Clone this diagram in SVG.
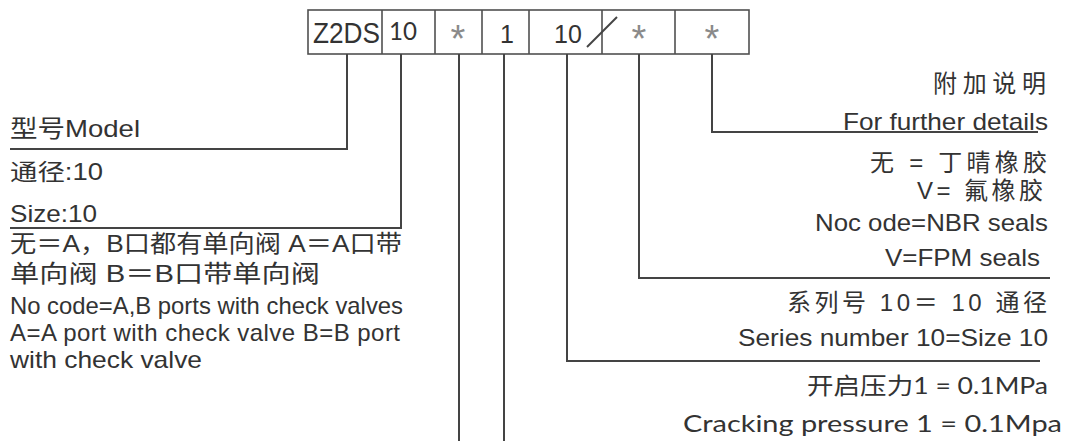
<svg xmlns="http://www.w3.org/2000/svg" width="1068" height="441" viewBox="0 0 1068 441">
<style>
.t{font-family:"Liberation Sans",Arial,"Noto Sans CJK SC",sans-serif;fill:#333;}
.c{font-family:"Liberation Sans","Noto Sans CJK SC",sans-serif;fill:#333;}
.g{font-family:Lato,"Noto Sans","Noto Sans CJK SC",sans-serif;fill:#333;}
.ast{font-family:"Liberation Sans",sans-serif;fill:#8a8a8a;font-size:38px;text-anchor:middle;}
.box{fill:#fff;stroke:#505050;stroke-width:1.6;}
.ln{fill:none;stroke:#444;stroke-width:2;}
</style>
<rect width="1068" height="441" fill="#fff"/>
<g id="code-boxes">
<rect class="box" x="308" y="10" width="441" height="44"/>
<line class="box" x1="382" y1="10" x2="382" y2="54"/>
<line class="box" x1="435" y1="10" x2="435" y2="54"/>
<line class="box" x1="482" y1="10" x2="482" y2="54"/>
<line class="box" x1="529" y1="10" x2="529" y2="54"/>
<line class="box" x1="602" y1="10" x2="602" y2="54"/>
<line class="box" x1="675" y1="10" x2="675" y2="54"/>
<text class="t" x="313" y="43" font-size="29" textLength="67" lengthAdjust="spacingAndGlyphs">Z2DS</text>
<text class="g" x="389" y="40" font-size="25" textLength="28" lengthAdjust="spacingAndGlyphs">10</text>
<text class="ast" x="458" y="52">*</text>
<text class="t" x="500" y="43" font-size="25">1</text>
<text class="t" x="554" y="43" font-size="25">10</text>
<line x1="587" y1="47" x2="617" y2="17" stroke="#444" stroke-width="2"/>
<text class="ast" x="639" y="52">*</text>
<text class="ast" x="712" y="52">*</text>
</g>
<g id="connectors">
<polyline class="ln" points="347,54 347,149 10,149"/>
<polyline class="ln" points="401,54 401,228 10,228"/>
<line class="ln" x1="459" y1="54" x2="459" y2="441"/>
<line class="ln" x1="504" y1="54" x2="504" y2="441"/>
<polyline class="ln" points="567,54 567,361 1040,361"/>
<polyline class="ln" points="639,54 639,278 1050,278"/>
<polyline class="ln" points="712,54 712,132 1038,132"/>
</g>
<g id="model">
<text class="c" x="10" y="137" font-size="24" textLength="130" lengthAdjust="spacingAndGlyphs">型号Model</text>
</g>
<g id="size">
<text class="c" x="10" y="180" font-size="23" textLength="93" lengthAdjust="spacingAndGlyphs">通径:10</text>
<text class="t" x="10" y="222" font-size="24" textLength="87" lengthAdjust="spacingAndGlyphs">Size:10</text>
</g>
<g id="check-valve">
<text class="c" x="10" y="252" font-size="24" textLength="392" lengthAdjust="spacingAndGlyphs">无＝A，B口都有单向阀 A＝A口带</text>
<text class="c" x="10" y="282" font-size="24" textLength="310" lengthAdjust="spacingAndGlyphs">单向阀 B＝B口带单向阀</text>
<text class="t" x="10" y="314" font-size="24" textLength="393" lengthAdjust="spacingAndGlyphs">No code=A,B ports with check valves</text>
<text class="t" x="10" y="341" font-size="24" textLength="390" lengthAdjust="spacing">A=A port with check valve B=B port</text>
<text class="t" x="10" y="368" font-size="24" textLength="192" lengthAdjust="spacingAndGlyphs">with check valve</text>
</g>
<g id="details">
<text class="c" x="933" y="92" font-size="24" textLength="113" lengthAdjust="spacing">附加说明</text>
<text class="t" x="843" y="130" font-size="24" textLength="205" lengthAdjust="spacingAndGlyphs">For further details</text>
</g>
<g id="seals">
<text class="c" x="870" y="171" font-size="24" textLength="177" lengthAdjust="spacing">无 = 丁晴橡胶</text>
<text class="c" x="917" y="199" font-size="24" textLength="126" lengthAdjust="spacing">V= 氟橡胶</text>
<text class="t" x="815" y="231" font-size="24" textLength="233" lengthAdjust="spacingAndGlyphs">Noc ode=NBR seals</text>
<text class="t" x="885" y="266" font-size="24" textLength="155" lengthAdjust="spacingAndGlyphs">V=FPM seals</text>
</g>
<g id="series">
<text class="c" x="787" y="311" font-size="24" textLength="260" lengthAdjust="spacing">系列号 10＝ 10 通径</text>
<text class="t" x="738" y="346" font-size="24" textLength="310" lengthAdjust="spacingAndGlyphs">Series number 10=Size 10</text>
</g>
<g id="pressure">
<text class="g" x="807" y="394" font-size="23" textLength="241" lengthAdjust="spacingAndGlyphs">开启压力1 = 0.1MPa</text>
<text class="g" x="683" y="432" font-size="24" textLength="379" lengthAdjust="spacingAndGlyphs">Cracking pressure 1 = 0.1Mpa</text>
</g>
</svg>
